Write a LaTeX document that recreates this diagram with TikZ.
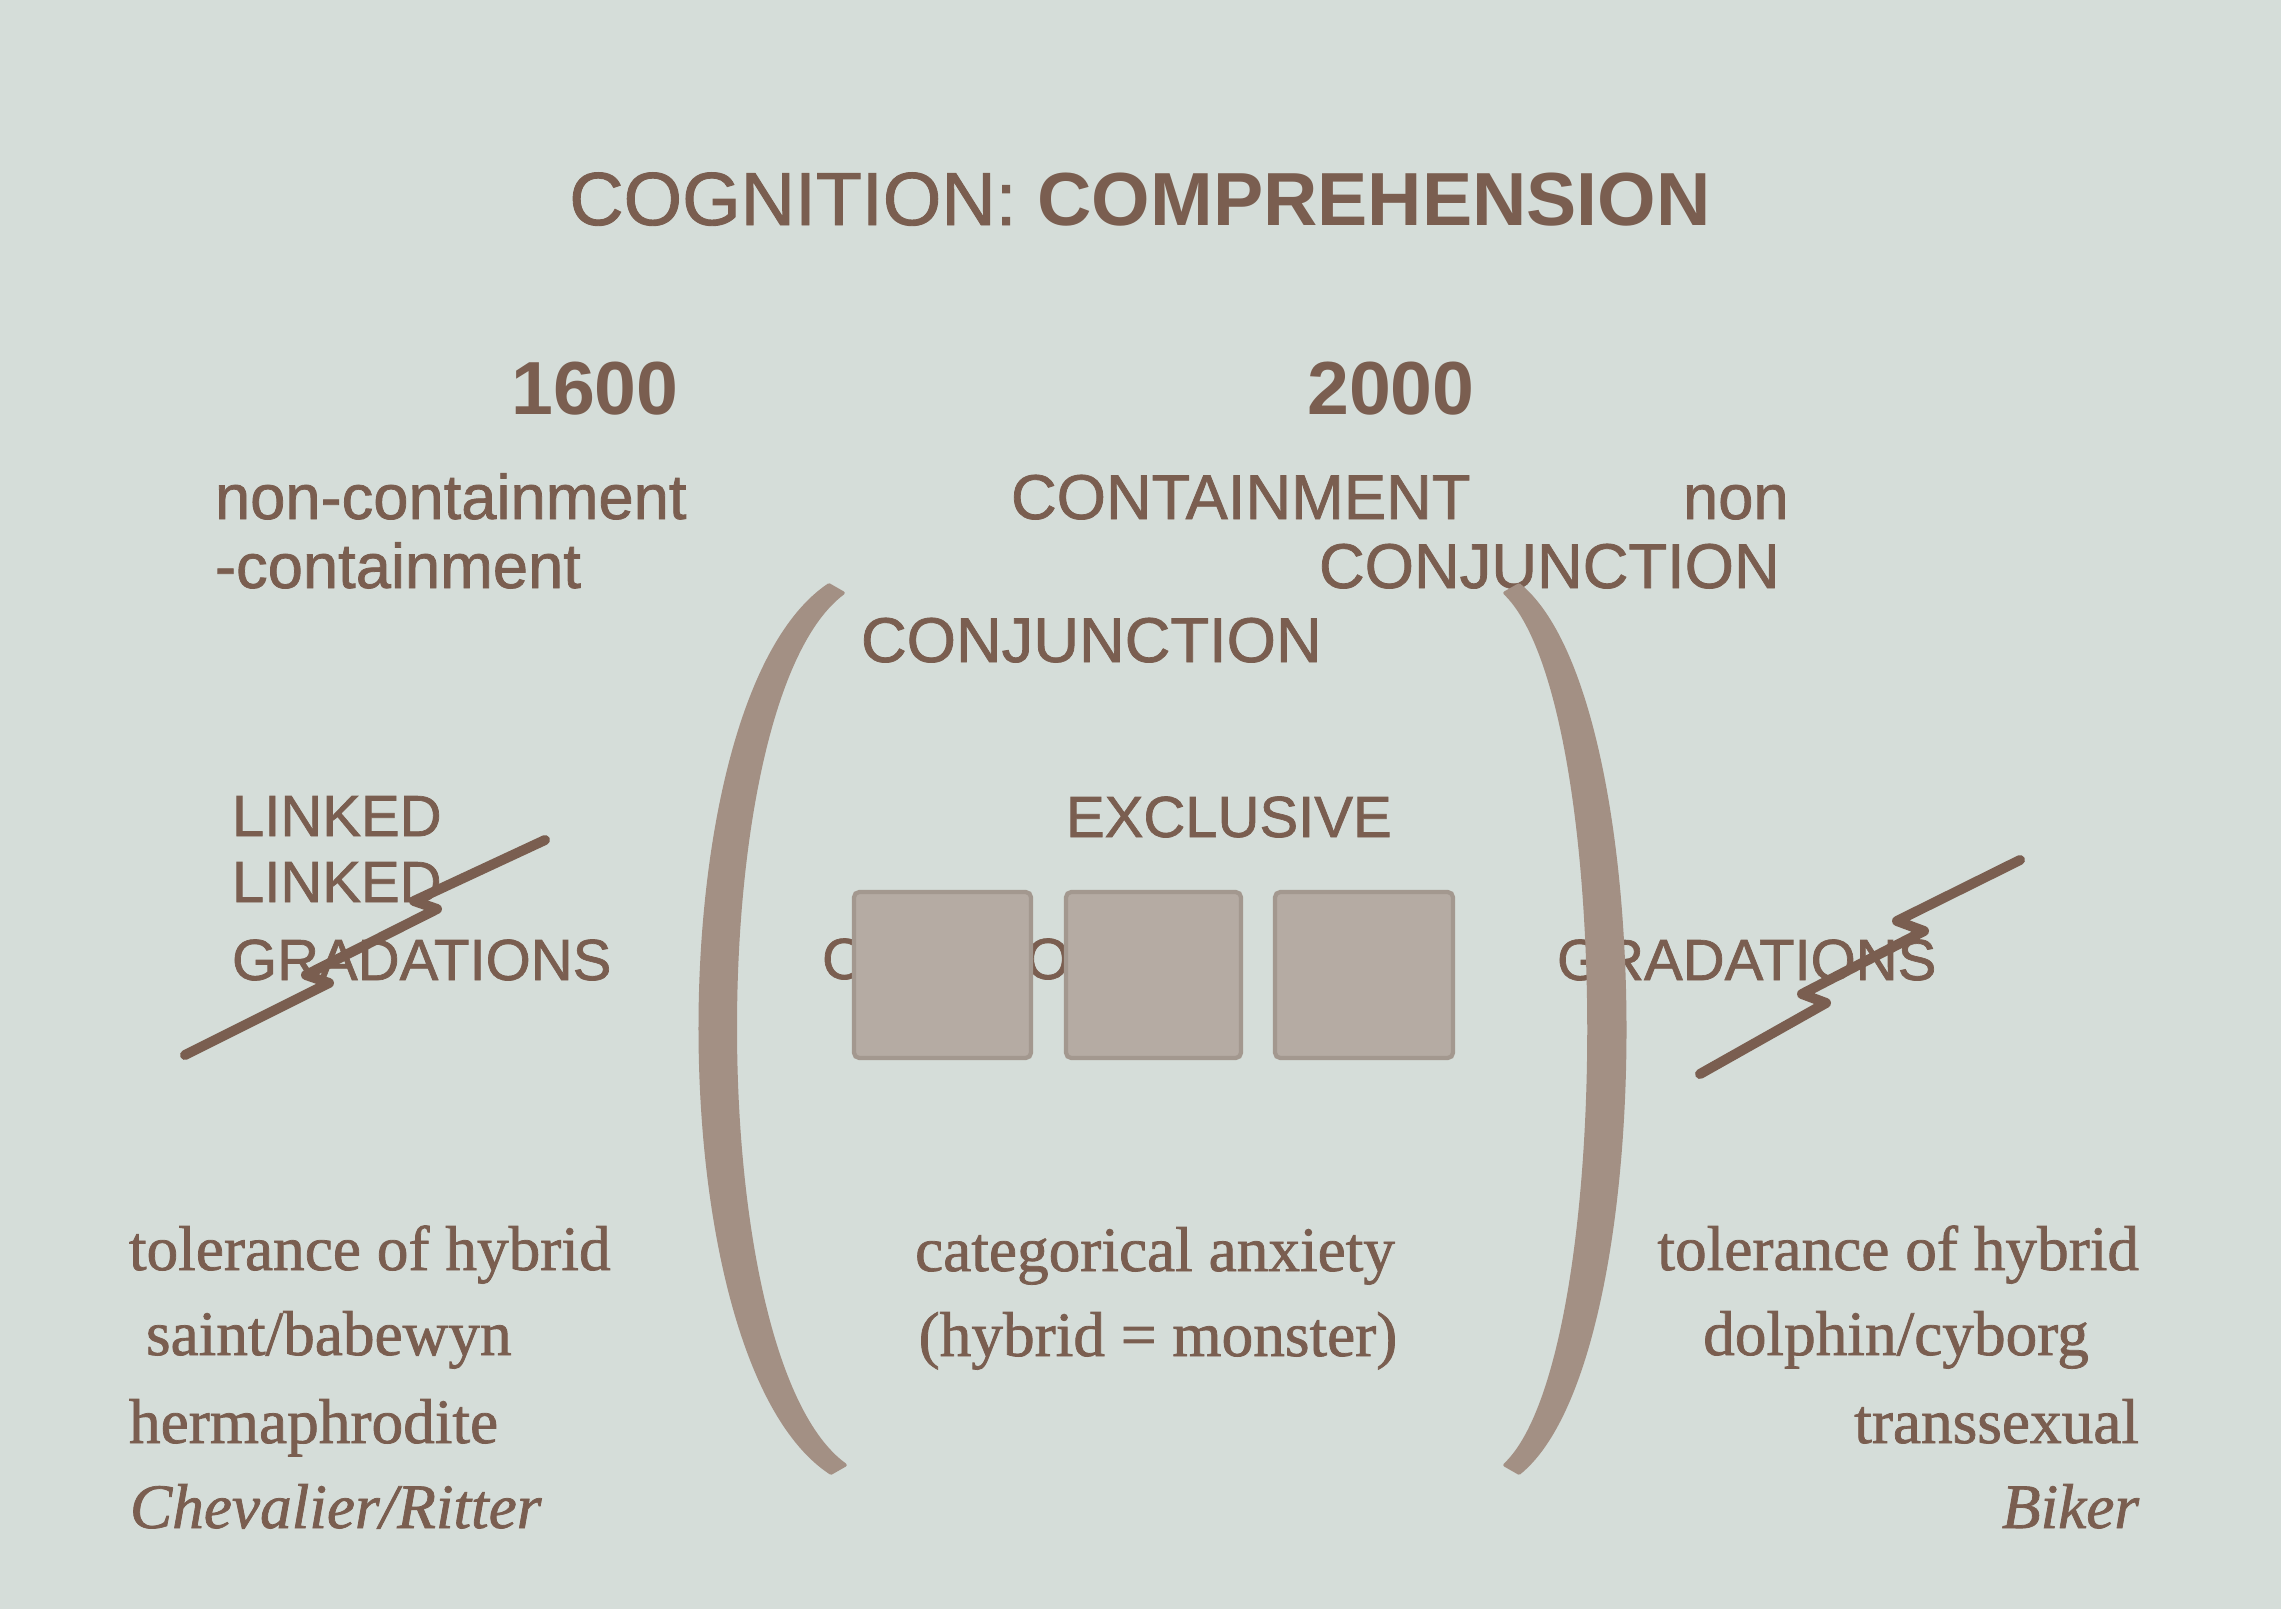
\documentclass[tikz,border=0pt]{standalone}
\usepackage{fontspec}
\setmainfont{Liberation Serif}
\setsansfont{Liberation Sans}
\definecolor{slide}{RGB}{213,221,217}
\definecolor{ink}{RGB}{122,94,80}
\definecolor{parenink}{RGB}{163,144,132}
\definecolor{tilefill}{RGB}{181,171,163}
\definecolor{tileedge}{RGB}{163,152,143}
\tikzset{
  lbl/.style={inner sep=0pt, outer sep=0pt, text=ink},
  head/.style={lbl, font=\sffamily\bfseries\fontsize{21.4}{24}\selectfont},
  caps/.style={lbl, font=\sffamily\fontsize{18}{20}\selectfont\addfontfeature{FakeBold=1.2}},
  smallcaps/.style={lbl, font=\sffamily\fontsize{16.5}{18}\selectfont\addfontfeature{FakeBold=1.2}},
  body/.style={lbl, font=\rmfamily\fontsize{18}{20}\selectfont\addfontfeature{FakeBold=1.2}},
  tile/.style={draw=tileedge, fill=tilefill, line width=1.2pt, rounded corners=1.5pt},
  paren/.style={fill=parenink, draw=parenink, line width=1pt, line join=round},
  bolt/.style={draw=ink, line width=2.85pt, line join=round, line cap=round}
}
\begin{document}
\begin{tikzpicture}[x=0.01cm, y=-0.01cm]
% slide background
\fill[slide] (0,0) rectangle (2281,1609);
\useasboundingbox (0,0) rectangle (2281,1609);

% heading
\node[head, anchor=base] (title) at (1140,225) {{\mdseries\addfontfeature{FakeBold=1.2}COGNITION:} COMPREHENSION};
\node[head, anchor=base] (y1600) at (595,414) {1600};
\node[head, anchor=base] (y2000) at (1391,414) {2000};

% upper labels
\node[caps, anchor=base west] (noncont) at (215,519) {non-containment};
\node[caps, anchor=base west] (contmin) at (215,588) {-containment};
\node[caps, anchor=base west] (cont) at (1011,519) {CONTAINMENT};
\node[caps, anchor=base west] (non) at (1683,519) {non};
\node[caps, anchor=base west] (conjR) at (1319,588) {CONJUNCTION};
\node[caps, anchor=base west] (conjM) at (861,662) {CONJUNCTION};

% middle row
\node[smallcaps, anchor=base west] (linkedA) at (232,836) {LINKED};
\node[smallcaps, anchor=base west] (linkedB) at (232,902) {LINKED};
\node[smallcaps, anchor=base west] (gradL) at (232,980) {GRADATIONS};
\node[smallcaps, anchor=base west] (excl) at (1066,837) {EXCLUSIVE};
\node[smallcaps, anchor=base west] (gradR) at (1557,980) {GRADATIONS};

% letters partly covered by the tiles
\node[smallcaps, anchor=base west] (hidC) at (822,979) {C};
\node[smallcaps, anchor=base] (hidO) at (1048,979) {O};

% three tiles
\path[tile] (854,892) rectangle (1031,1058);
\node[inner sep=0pt, minimum width=177*0.01cm, minimum height=166*0.01cm] (tile1) at (942.5,975) {};
\path[tile] (1066,892) rectangle (1241,1058);
\node[inner sep=0pt, minimum width=175*0.01cm, minimum height=166*0.01cm] (tile2) at (1153.5,975) {};
\path[tile] (1275,892) rectangle (1453,1058);
\node[inner sep=0pt, minimum width=178*0.01cm, minimum height=166*0.01cm] (tile3) at (1364,975) {};

% large brackets
\path[paren] (829,585) .. controls (657,700) and (657,1360) .. (831,1473)
  -- (845,1465) .. controls (699,1360) and (699,700) .. (843,593) -- cycle;
\path[paren] (1519,585) .. controls (1660,700) and (1660,1360) .. (1519,1473)
  -- (1505,1465) .. controls (1617,1360) and (1617,700) .. (1505,593) -- cycle;

% broken strike-through lines
\draw[bolt] (545,840) -- (414,901) -- (437,909) -- (306,975) -- (329,983) -- (185,1055);
\draw[bolt] (2020,860) -- (1897,921) -- (1924,931) -- (1802,994) -- (1826,1003) -- (1700,1074);

% lower texts, left
\node[body, anchor=base west] (tolL) at (129,1270) {tolerance of hybrid};
\node[body, anchor=base west] (saint) at (146,1355) {saint/babewyn};
\node[body, anchor=base west] (herm) at (129,1443) {hermaphrodite};
\node[body, anchor=base west] (chev) at (130,1528) {\itshape Chevalier/Ritter};

% lower texts, centre
\node[body, anchor=base] (anx) at (1155,1271) {categorical anxiety};
\node[body, anchor=base] (monst) at (1158,1356) {(hybrid = monster)};

% lower texts, right
\node[body, anchor=base east] (tolR) at (2139,1270) {tolerance of hybrid};
\node[body, anchor=base] (dolph) at (1896,1355) {dolphin/cyborg};
\node[body, anchor=base east] (trans) at (2139,1443) {transsexual};
\node[body, anchor=base east] (biker) at (2139,1528) {\itshape Biker};
\end{tikzpicture}
\end{document}
